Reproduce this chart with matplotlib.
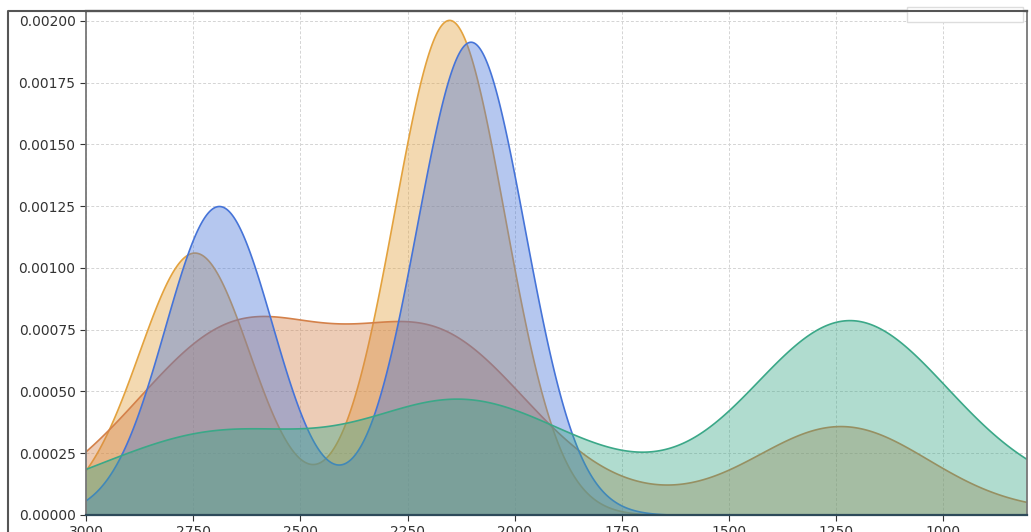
import numpy as np
import matplotlib
matplotlib.use("Agg")
import matplotlib.pyplot as plt
import seaborn as sns
from matplotlib.lines import Line2D
from matplotlib.patches import Rectangle

# each group: distinct values with their counts, plus the kernel bandwidth
gold_vals = [2950, 2745, 2153]
gold_counts = [12, 340, 648]
gold_bw = 129

brown_vals = [700, 1200, 1300, 1800, 2000, 2100, 2200, 2300, 2400, 2500, 2600, 2700, 2800, 2900, 3000]
brown_counts = [7, 112, 70, 29, 6, 101, 208, 33, 10, 39, 171, 119, 44, 32, 8]
brown_bw = 200

blue_vals = [2690, 2103]
blue_counts = [395, 605]
blue_bw = 126

green_vals = [700, 900, 1000, 1100, 1200, 1300, 1400, 1500, 1700, 1800, 1900, 2000, 2100, 2200, 2300,
              2400, 2500, 2600, 2700, 2800, 2900, 3000, 3100]
green_counts = [34, 4, 34, 100, 134, 134, 51, 5, 7, 39, 31, 28, 77, 90, 23,
                8, 18, 58, 52, 29, 24, 21, 9]
green_bw = 200

groups = [
    (gold_vals, gold_counts, gold_bw, '#e3a23e'),
    (brown_vals, brown_counts, brown_bw, '#d4814a'),
    (blue_vals, blue_counts, blue_bw, '#4674d8'),
    (green_vals, green_counts, green_bw, '#3ba888'),
]

x_ticks = [3000, 2750, 2500, 2250, 2000, 1750, 1500, 1250, 1000]
y_ticks = [0, 0.00025, 0.0005, 0.00075, 0.001, 0.00125, 0.0015, 0.00175, 0.002]

fig = plt.figure(figsize=(10.31, 5.32), dpi=100)
ax = fig.add_axes([86 / 1031, 17 / 532, 941 / 1031, 504 / 532])

for vals, counts, bw, col in groups:
    vals = np.array(vals, float)
    counts = np.array(counts, float)
    std = np.sqrt(np.cov(vals, aweights=counts))
    sns.kdeplot(x=vals, weights=counts, bw_method=bw / std, fill=True, color=col,
                alpha=0.4, linewidth=1.2, gridsize=800, cut=5, ax=ax)

ax.set_xlim(3000, 805)
ax.set_ylim(0, 0.00204)
ax.set_xticks(x_ticks)
ax.set_yticks(y_ticks)
ax.set_yticklabels(['%.5f' % v for v in y_ticks])
ax.set_xlabel('')
ax.set_ylabel('')
ax.set_axisbelow(True)
ax.grid(True, linestyle=(0, (3, 2)), color='#d4d4d4', linewidth=0.7)
ax.tick_params(labelsize=10, colors='#333333', length=4)
for side in ['left', 'right']:
    ax.spines[side].set_color('#777777')
    ax.spines[side].set_linewidth(1.3)
ax.spines['top'].set_color('#333333')
ax.spines['top'].set_linewidth(1.6)
ax.spines['bottom'].set_color('#2d4a5a')
ax.spines['bottom'].set_linewidth(1.6)

# empty legend frame in the top right corner
ax.add_patch(Rectangle((0.8725, 0.978), 0.123, 0.03, transform=ax.transAxes,
                       facecolor='white', edgecolor='#dddddd', linewidth=1,
                       clip_on=False, zorder=5))

# outer frame of the figure
fig.add_artist(Line2D([8 / 1031, 8 / 1031, 1027 / 1031], [0, 521 / 532, 521 / 532],
                      transform=fig.transFigure, color='#555555', linewidth=1.5))

fig.savefig('out.png', dpi=100)
